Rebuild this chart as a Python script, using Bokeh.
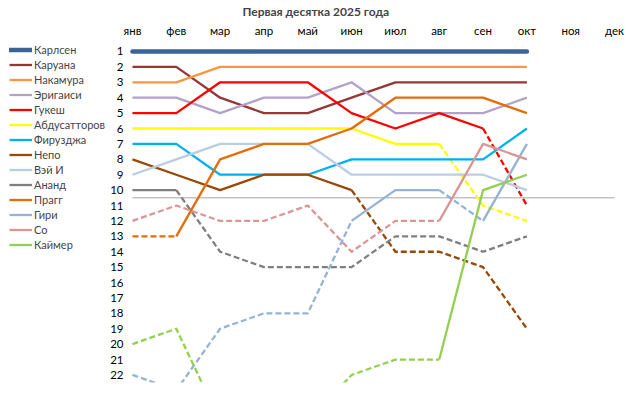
from bokeh.plotting import figure
from bokeh.models import Range1d, FixedTicker, Legend, LegendItem
from bokeh.layouts import row
from bokeh.embed import file_html
from bokeh.resources import INLINE

title_text = "Первая десятка 2025 года"
months = ["янв", "фев", "мар", "апр", "май", "июн", "июл", "авг", "сен", "окт", "ноя", "дек"]
rank_ticks = list(range(1, 23))
top_cut = 10
cut_line_rank = 10.5

players = ["Карлсен", "Каруана", "Накамура", "Эригаиси", "Гукеш", "Абдусатторов",
           "Фирузджа", "Непо", "Вэй И", "Ананд", "Прагг", "Гири", "Со", "Каймер"]

carlsen = [1, 1, 1, 1, 1, 1, 1, 1, 1, 1]
caruana = [2, 2, 4, 5, 5, 4, 3, 3, 3, 3]
nakamura = [3, 3, 2, 2, 2, 2, 2, 2, 2, 2]
erigaisi = [4, 4, 5, 4, 4, 3, 5, 5, 5, 4]
gukesh = [5, 5, 3, 3, 3, 5, 6, 5, 6, 11]
abdusattorov = [6, 6, 6, 6, 6, 6, 7, 7, 11, 12]
firouzja = [7, 7, 9, 9, 9, 8, 8, 8, 8, 6]
nepo = [8, 9, 10, 9, 9, 10, 14, 14, 15, 19]
wei_yi = [9, 8, 7, 7, 7, 9, 9, 9, 9, 10]
anand = [10, 10, 14, 15, 15, 15, 13, 13, 14, 13]
pragg = [13, 13, 8, 7, 7, 6, 4, 4, 4, 5]
giri = [22, 23, 19, 18, 18, 12, 10, 10, 12, 7]
so = [12, 11, 12, 12, 11, 14, 12, 12, 7, 8]
keymer = [20, 19, 25, 25, 25, 22, 21, 21, 10, 9]

series = [carlsen, caruana, nakamura, erigaisi, gukesh, abdusattorov, firouzja,
          nepo, wei_yi, anand, pragg, giri, so, keymer]
colors = ["#3B6396", "#953735", "#F79646", "#B3A2C7", "#FF0000", "#FFFF00", "#00B0F0",
          "#984807", "#B9CDE5", "#7F7F7F", "#E46C0A", "#95B3D7", "#D99694", "#92D050"]
widths = [4.5, 2.3, 2.3, 2.3, 2.3, 2.3, 2.3, 2.3, 2.3, 2.3, 2.3, 2.3, 2.3, 2.3]

FONT = "Lato"

# ---- legend panel (left); its series lie outside its own y range, only the key shows ----
lg = figure(width=107, height=395, x_range=Range1d(0, 1), y_range=Range1d(-2, -1),
            x_axis_type=None, y_axis_type=None,
            output_backend="svg", toolbar_location=None,
            min_border_left=0, min_border_right=0, min_border_top=0, min_border_bottom=0)
lg.outline_line_color = None
lg.xgrid.visible = False
lg.ygrid.visible = False

# ---- main chart ----
p = figure(width=519, height=395,
           x_range=Range1d(-0.136, 11.09), y_range=Range1d(22.49, 0.286),
           x_axis_location="above",
           output_backend="svg", toolbar_location=None,
           min_border_left=17, min_border_right=8, min_border_top=40, min_border_bottom=13)

p.title.text = title_text
p.title.text_font = FONT
p.title.text_font_size = "12px"
p.title.text_font_style = "bold"
p.title.align = "left"
p.title.offset = 116
p.title.standoff = 3

p.xgrid.visible = False
p.ygrid.visible = False
p.outline_line_color = None

xa = p.xaxis[0]
xa.ticker = FixedTicker(ticks=list(range(len(months))))
xa.major_label_overrides = {i: m for i, m in enumerate(months)}
ya = p.yaxis[0]
ya.ticker = FixedTicker(ticks=rank_ticks)
for ax in (xa, ya):
    ax.axis_line_color = None
    ax.major_tick_line_color = None
    ax.minor_tick_line_color = None
    ax.major_tick_in = 0
    ax.major_tick_out = 0
    ax.minor_tick_in = 0
    ax.minor_tick_out = 0
    ax.major_label_text_font = FONT
    ax.major_label_text_font_size = "11.5px"
    ax.major_label_text_color = "#000000"
xa.major_label_standoff = 4
ya.major_label_standoff = 3

p.line([0, len(months) - 1], [cut_line_rank, cut_line_rank], line_color="#A6A6A6", line_width=1)

items = []
for name, vals, col, w in zip(players, series, colors, widths):
    runs = {"solid": ([], []), "dashed": ([], [])}
    cur_style = None
    cur_x, cur_y = [], []
    for k in range(len(vals) - 1):
        style = "solid" if vals[k + 1] <= top_cut else "dashed"
        if style != cur_style:
            if cur_style is not None:
                runs[cur_style][0].append(cur_x)
                runs[cur_style][1].append(cur_y)
            cur_style = style
            cur_x, cur_y = [k], [vals[k]]
        cur_x.append(k + 1)
        cur_y.append(vals[k + 1])
    runs[cur_style][0].append(cur_x)
    runs[cur_style][1].append(cur_y)

    cap = "round" if w > 3 else "butt"
    if runs["dashed"][0]:
        p.multi_line(xs=runs["dashed"][0], ys=runs["dashed"][1], line_color=col,
                     line_width=w, line_dash="6 3", line_join="round")
    if runs["solid"][0]:
        p.multi_line(xs=runs["solid"][0], ys=runs["solid"][1], line_color=col,
                     line_width=w, line_join="round", line_cap=cap)
    key = lg.line(x=list(range(len(vals))), y=vals, line_color=col, line_width=w, line_cap=cap)
    items.append(LegendItem(label=name, renderers=[key]))

legend = Legend(items=items, location=(9, 130),
                border_line_color=None, background_fill_alpha=0,
                padding=3, margin=0, spacing=0,
                glyph_width=23, glyph_height=15, label_height=15, label_standoff=2,
                label_text_font=FONT, label_text_font_size="11px")
lg.add_layout(legend)

layout = row(lg, p)
open("out.html", "w").write(file_html(layout, INLINE))
